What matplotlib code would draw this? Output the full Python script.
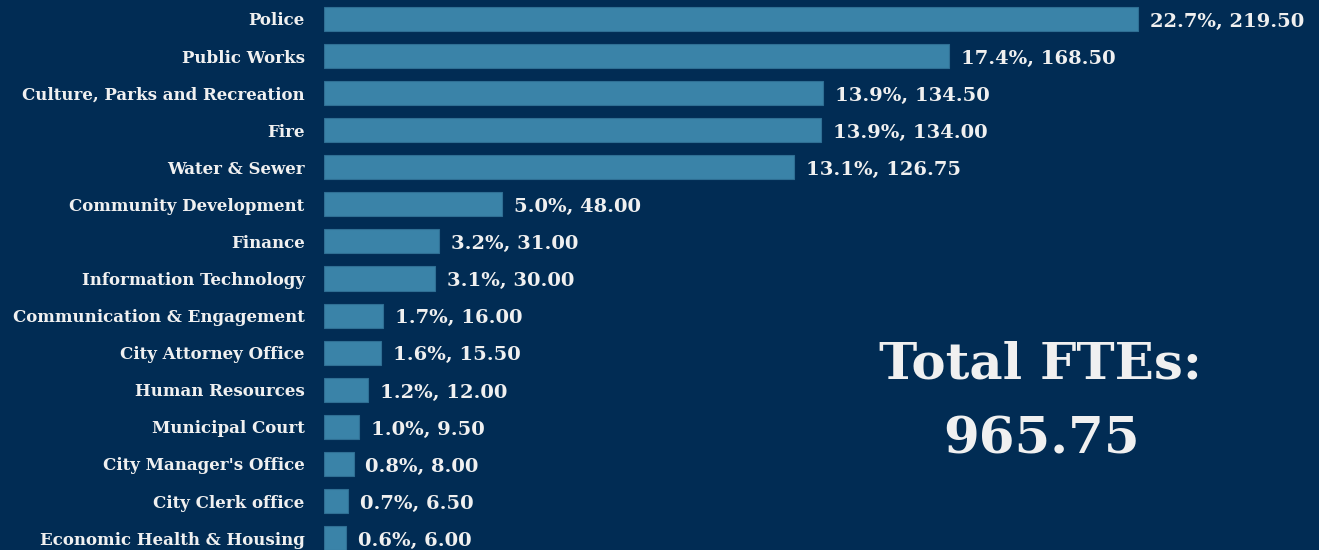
import matplotlib
matplotlib.use("Agg")
import matplotlib.pyplot as plt

# data to plot
departments = ["Police", "Public Works", "Culture, Parks and Recreation", "Fire",
               "Water & Sewer", "Community Development", "Finance",
               "Information Technology", "Communication & Engagement",
               "City Attorney Office", "Human Resources", "Municipal Court",
               "City Manager's Office", "City Clerk office",
               "Economic Health & Housing"]
ftes = [219.50, 168.50, 134.50, 134.00, 126.75, 48.00, 31.00, 30.00,
        16.00, 15.50, 12.00, 9.50, 8.00, 6.50, 6.00]
total = sum(ftes)

bg = "#012c54"
bar_color = "#3a83a8"
txt = "#f0f0f0"

plt.rcParams["font.family"] = ["DejaVu Serif"]
plt.rcParams["font.weight"] = "bold"

fig = plt.figure(figsize=(13.19, 5.5), dpi=100, facecolor=bg)
ax = fig.add_axes([324 / 1319, 0, 1 - 324 / 1319, 1])
ax.set_facecolor(bg)

ypos = list(range(len(departments)))
ax.barh(ypos, ftes, height=0.65, color=bar_color, edgecolor="#2f6f94", linewidth=0.8)

for y, v in zip(ypos, ftes):
    ax.annotate(f"{v / total * 100:.1f}%, {v:.2f}", (v, y), xytext=(8.5, -2),
                textcoords="offset points", va="center", ha="left",
                color=txt, fontsize=14, fontweight="bold")

ax.set_xlim(0, 995 / 3.708)
ax.set_ylim(14.32, -0.51)
ax.set_yticks(ypos)
ax.set_yticklabels(departments, color=txt, fontsize=12, fontweight="bold")
ax.tick_params(axis="y", length=0, pad=14)
ax.set_xticks([])
for s in ax.spines.values():
    s.set_visible(False)

fig.text(1040 / 1319, 1 - 365 / 550, "Total FTEs:", ha="center", va="center",
         color=txt, fontsize=37, fontweight="bold")
fig.text(1042 / 1319, 1 - 440 / 550, f"{total:.2f}", ha="center", va="center",
         color=txt, fontsize=37, fontweight="bold")

fig.savefig("out.png", dpi=100, facecolor=bg)
